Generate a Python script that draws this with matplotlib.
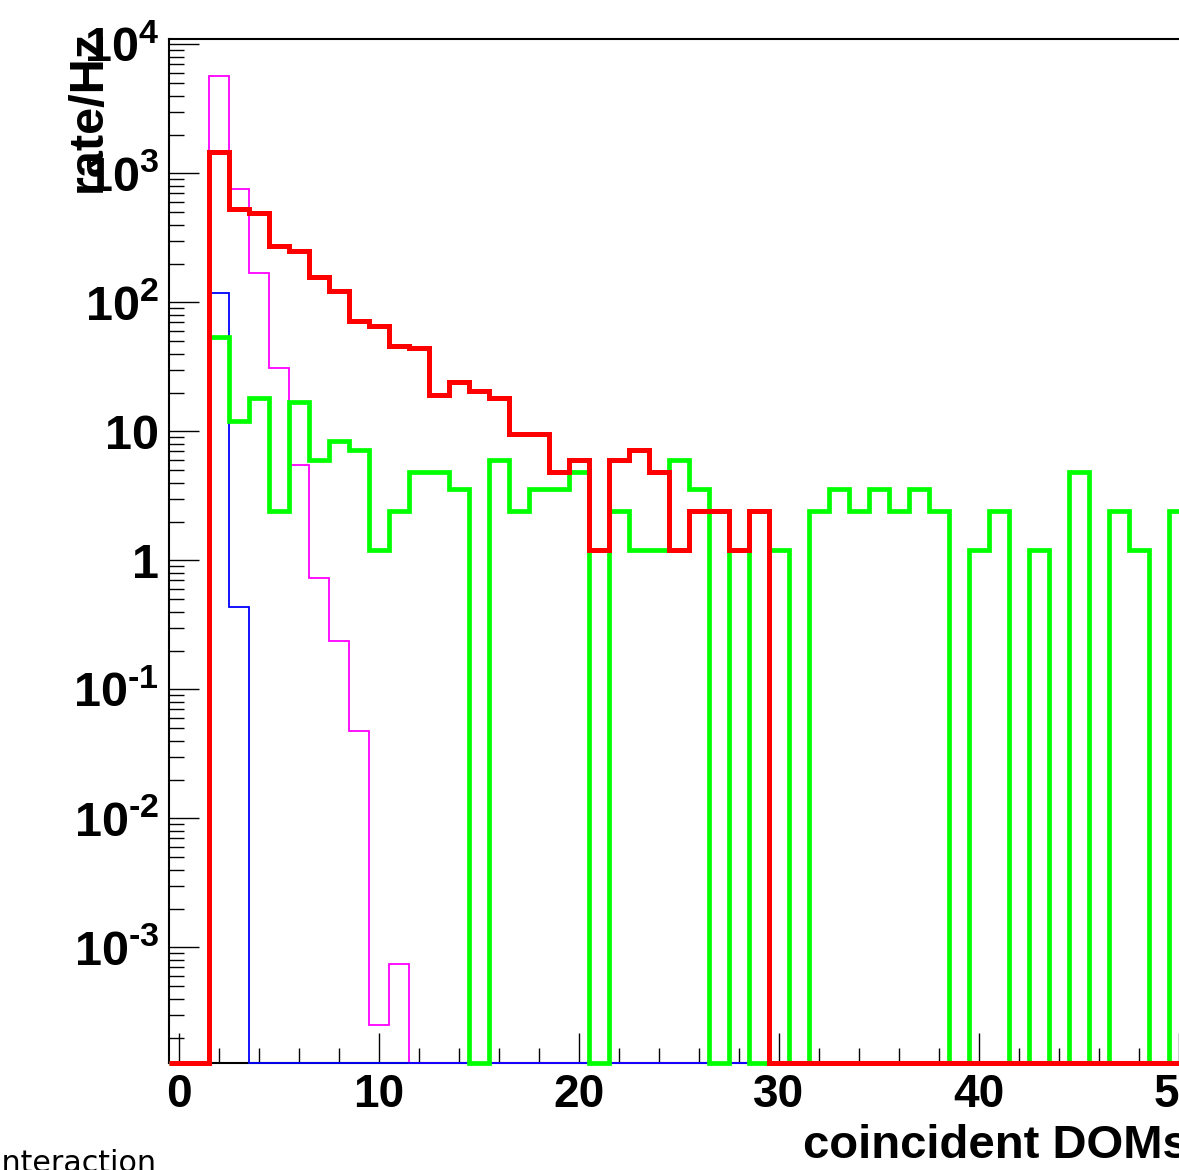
import numpy as np
import matplotlib
matplotlib.use("Agg")
import matplotlib.pyplot as plt
from matplotlib.ticker import FixedLocator, FixedFormatter, MultipleLocator, LogLocator, NullFormatter

# Number of coincident DOMs: one bin per integer, bins 0..50
n_doms = np.arange(0, 51)

# Rates per bin (Hz)
rate_magenta = [0, 0, 5710, 755, 168, 30.8, 5.48, 0.724, 0.238, 0.0478,
                2.5e-4, 7.43e-4] + [0] * 39
rate_blue = [0, 0, 119, 0.437] + [0] * 47
rate_green = [0, 0, 53.5, 12.1, 18.0, 2.4, 16.8, 6.0, 8.4, 7.2,
              1.2, 2.4, 4.8, 4.8, 3.6, 0, 6.0, 2.4, 3.6, 3.6,
              4.8, 0, 2.4, 1.2, 1.2, 6.0, 3.6, 0, 1.2, 0,
              1.2, 0, 2.4, 3.6, 2.4, 3.6, 2.4, 3.6, 2.4, 0,
              1.2, 2.4, 0, 1.2, 0, 4.8, 0, 2.4, 1.2, 0,
              2.4]
rate_red = [0, 0, 1460, 528, 492, 275, 251, 158, 122, 72,
            65, 46, 44, 19.2, 24, 20.4, 18, 9.6, 9.6, 4.8,
            6.0, 1.2, 6.0, 7.2, 4.8, 1.2, 2.4, 2.4, 1.2, 2.4] + [0] * 21

# Axis tick labels
x_tick_values = [0, 10, 20, 30, 40, 50, 60]
x_tick_labels = ["0", "10", "20", "30", "40", "50", "60"]
y_tick_values = [1e-3, 1e-2, 1e-1, 1, 10, 1e2, 1e3, 1e4]
y_tick_labels = [r"$10^{\text{-3}}$", r"$10^{\text{-2}}$", r"$10^{\text{-1}}$",
                 "1", "10", r"$10^{2}$", r"$10^{3}$", r"$10^{4}$"]

plt.rcParams["font.family"] = ["Liberation Sans", "DejaVu Sans"]
plt.rcParams["mathtext.fontset"] = "custom"
plt.rcParams["mathtext.rm"] = "Liberation Sans:bold"
plt.rcParams["mathtext.bf"] = "Liberation Sans:bold"
plt.rcParams["mathtext.it"] = "Liberation Sans:bold"
plt.rcParams["mathtext.default"] = "rm"

W, H = 1179, 1170
fig = plt.figure(figsize=(W / 100, H / 100), dpi=100)

# frame in pixel terms: left edge x=169, bottom y=1063, top y=39; 20 px per DOM
x_lo, x_hi = -0.5, 60.5
left_px, bottom_px, top_px = 169, 1063, 39
ax = fig.add_axes([left_px / W, (H - bottom_px) / H,
                   (x_hi - x_lo) * 20 / W, (bottom_px - top_px) / H])

y_lo, y_hi = 1.27e-4, 1.10e4
ax.set_xlim(x_lo, x_hi)
ax.set_yscale("log")
ax.set_ylim(y_lo, y_hi)

edges = np.append(n_doms - 0.5, n_doms[-1] + 0.5)


def draw_hist(values, color, lw, z):
    v = np.asarray(values, dtype=float)
    v = np.where(v > 0, v, y_lo)  # empty bins sit on the floor of the frame
    ax.stairs(v, edges, baseline=y_lo, color=color, linewidth=lw,
              zorder=z, clip_on=False)


draw_hist(rate_magenta, "#ff00ff", 1.3, 3)
draw_hist(rate_blue, "#0000ff", 1.3, 4)
draw_hist(rate_green, "#00ff00", 3.4, 5)
draw_hist(rate_red, "#ff0000", 3.6, 6)

for s in ax.spines.values():
    s.set_linewidth(1.5)
    s.set_zorder(2)

ax.xaxis.set_major_locator(FixedLocator(x_tick_values))
ax.xaxis.set_major_formatter(FixedFormatter(x_tick_labels))
ax.xaxis.set_minor_locator(MultipleLocator(2))
ax.yaxis.set_major_locator(FixedLocator(y_tick_values))
ax.yaxis.set_major_formatter(FixedFormatter(y_tick_labels))
ax.yaxis.set_minor_locator(LogLocator(base=10, subs=np.arange(2, 10), numticks=30))
ax.yaxis.set_minor_formatter(NullFormatter())

ax.tick_params(which="both", direction="in", top=False, right=False, width=1.0)
ax.tick_params(which="major", length=21.6)
ax.tick_params(which="minor", length=10.8)
ax.tick_params(axis="x", which="major", pad=7, labelsize=33)
ax.tick_params(axis="y", which="major", pad=7, labelsize=35)
for lab in ax.get_xticklabels() + ax.get_yticklabels():
    lab.set_fontweight("bold")

# axis titles
fig.text(803 / W, (H - 1158) / H, "coincident DOMs", fontsize=34,
         fontweight="bold", ha="left", va="baseline")
fig.text(88 / W, 1 - 30 / H, "rate/Hz", fontsize=35, fontweight="bold",
         rotation=90, ha="center", va="top")

# legend entry text at the lower left
fig.text(156 / W, (H - 1171.5) / H, "interaction", fontsize=21.7,
         family="DejaVu Sans", ha="right", va="baseline")

fig.savefig("out.png", dpi=100)
